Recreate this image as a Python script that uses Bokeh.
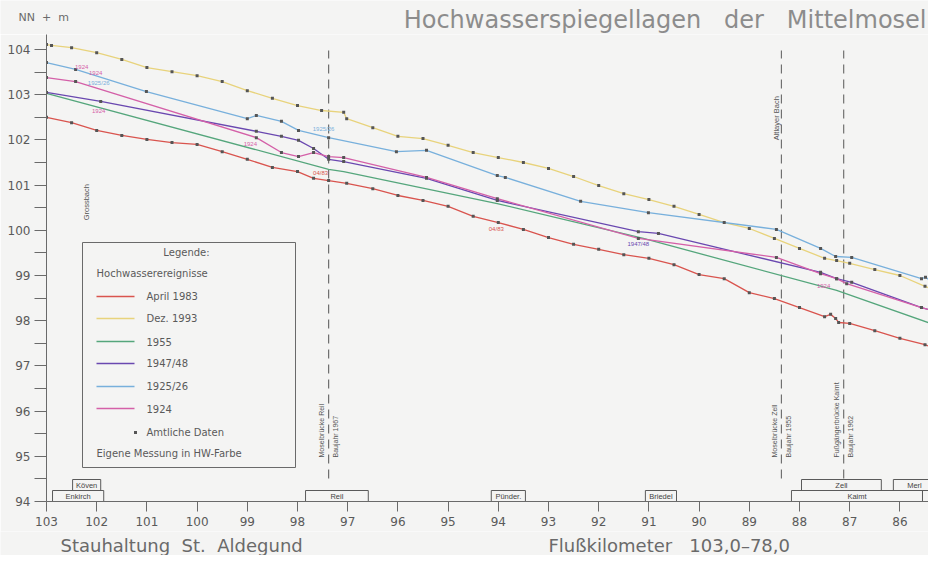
from math import pi
from bokeh.plotting import figure
from bokeh.layouts import column
from bokeh.models import Range1d, FixedTicker
from bokeh.core.properties import value
from bokeh.embed import file_html
from bokeh.resources import INLINE

# ---------------- data (Flußkilometer / Wasserspiegel NN + m) ----------------
km_1983 = [103.0, 102.5, 102.0, 101.5, 101.0, 100.5, 100.0, 99.5, 99.0, 98.5, 98.0, 97.68, 97.38,
           97.02, 96.5, 96.0, 95.5, 95.0, 94.5, 94.0, 93.5, 93.0, 92.5, 92.0, 91.5, 91.0, 90.5,
           90.0, 89.5, 89.0, 88.5, 88.0, 87.5, 87.38, 87.28, 87.22, 87.0, 86.5, 86.0, 85.5, 85.0]
m_1983 = [102.50, 102.38, 102.21, 102.10, 102.01, 101.94, 101.90, 101.74, 101.57, 101.39, 101.30,
          101.15, 101.10, 101.04, 100.92, 100.77, 100.66, 100.53, 100.31, 100.17, 100.02, 99.84,
          99.69, 99.58, 99.46, 99.38, 99.24, 99.02, 98.93, 98.62, 98.49, 98.29, 98.09, 98.14,
          98.05, 97.96, 97.94, 97.78, 97.61, 97.47, 97.25]

km_1993 = [103.0, 102.9, 102.5, 102.0, 101.5, 101.0, 100.5, 100.0, 99.5, 99.0, 98.5, 98.0, 97.52,
           97.08, 97.02, 96.5, 96.0, 95.5, 95.0, 94.5, 94.0, 93.5, 93.0, 92.5, 92.0, 91.5, 91.0,
           90.5, 90.0, 89.5, 89.0, 88.5, 88.0, 87.5, 87.26, 87.0, 86.5, 86.0, 85.5, 85.0]
m_1993 = [104.11, 104.09, 104.04, 103.93, 103.78, 103.60, 103.51, 103.42, 103.29, 103.09, 102.92,
          102.76, 102.65, 102.61, 102.47, 102.27, 102.08, 102.03, 101.88, 101.72, 101.61, 101.50,
          101.37, 101.19, 100.99, 100.81, 100.68, 100.53, 100.35, 100.17, 100.04, 99.82, 99.60,
          99.38, 99.33, 99.27, 99.13, 99.00, 98.76, 98.55]

km_1955 = [103.0, 97.38, 97.08, 94.02, 91.11, 87.26, 85.0]
m_1955 = [103.03, 101.35, 101.30, 100.59, 99.82, 98.67, 97.79]

km_1947 = [103.0, 101.92, 98.82, 98.32, 97.98, 97.68, 97.38, 97.08, 95.43, 94.02, 91.21, 90.81,
           87.58, 87.26, 86.96, 85.57, 85.0]
m_1947 = [103.05, 102.85, 102.19, 102.08, 101.99, 101.81, 101.57, 101.52, 101.15, 100.66, 99.97,
          99.93, 99.07, 98.93, 98.85, 98.29, 98.11]

km_1925 = [103.0, 102.42, 101.01, 99.0, 98.82, 98.32, 97.98, 97.38, 96.03, 95.43, 94.02, 93.86,
           92.36, 91.01, 88.46, 87.58, 87.28, 86.96, 85.57, 85.49, 85.0]
m_1925 = [103.71, 103.56, 103.07, 102.47, 102.54, 102.41, 102.21, 102.05, 101.74, 101.77, 101.21,
          101.17, 100.64, 100.39, 100.02, 99.60, 99.42, 99.40, 98.93, 98.96, 98.62]

km_1924 = [103.0, 102.42, 98.82, 98.32, 97.98, 97.68, 97.38, 97.08, 95.43, 94.02, 91.21, 88.46,
           87.58, 87.26, 87.06, 85.57, 85.0]
m_1924 = [103.38, 103.29, 102.05, 101.72, 101.63, 101.72, 101.63, 101.61, 101.17, 100.70, 99.82,
          99.40, 99.04, 98.93, 98.82, 98.29, 98.12]

series_names = ["April 1983", "Dez. 1993", "1955", "1947/48", "1925/26", "1924"]
series_km = [km_1983, km_1993, km_1955, km_1947, km_1925, km_1924]
series_m = [m_1983, m_1993, m_1955, m_1947, m_1925, m_1924]
series_official = [True, True, False, True, True, True]

# small event annotations
ann_text = ["1924", "1924", "1925/26", "1924", "1924", "1925/26", "04/83", "04/83", "1947/48", "1924"]
ann_km = [102.30, 102.02, 101.96, 101.96, 98.94, 97.48, 97.54, 94.04, 91.21, 87.52]
ann_m = [103.62, 103.47, 103.25, 102.65, 101.90, 102.25, 101.26, 100.02, 99.69, 98.76]
ann_series = [5, 5, 4, 5, 5, 4, 0, 0, 3, 5]

# bridges
bridge_km = [97.38, 88.36, 87.12]
bridge_name = ["Moselbrücke Reil", "Moselbrücke Zell", "Fußgängerbrücke Kaimt"]
bridge_year = ["Baujahr 1967", "Baujahr 1955", "Baujahr 1962"]

# tributaries
brook_name = ["Grossbach", "Altlayer Bach"]
brook_km = [102.2, 88.45]
brook_m = [100.22, 101.99]

# towns along the river
town_name = ["Enkirch", "Köven", "Reil", "Pünder.", "Briedel", "Kaimt", "", "Zell", "Merl"]
town_start = [102.88, 102.48, 97.84, 94.14, 91.07, 88.16, 85.55, 87.96, 86.13]
town_end = [101.86, 101.92, 96.59, 93.46, 90.45, 85.55, 84.2, 86.37, 85.29]
town_row = [0, 1, 0, 0, 0, 0, 0, 1, 1]

x_ticks = list(range(86, 104))
y_ticks = list(range(94, 105))
y_minor = [v + 0.5 for v in range(94, 104)]

NB = "\u00a0"
title_text = "Hochwasserspiegellagen" + NB * 3 + "der" + NB * 3 + "Mittelmosel"
unit_text = "NN" + NB * 2 + "+" + NB * 2 + "m"
caption_left = "Stauhaltung" + NB * 2 + "St." + NB * 2 + "Aldegund"
caption_right = "Flußkilometer" + NB * 3 + "103,0–78,0"

# ---------------- styles / layout ----------------
COLORS = ["#d9544e", "#e8d37c", "#55a67c", "#6a48b0", "#78b0dc", "#d460a8"]
BG = "#f4f4f3"
GREY = "#5a5a5a"
FONT = "DejaVu Sans"
SMALL = "Liberation Sans"

W = 928
TOP_H = 34
BOT_H = 24
PX_PER_KM = 50.2
PX_PER_M = 45.2
AX_X = 48      # y-axis position (page px)
AX_Y = 501     # x-axis position (page px)
SHIFT_X = 2    # page px -> canvas px
FRAME_LEFT = AX_X - SHIFT_X
FRAME_W = W - FRAME_LEFT
FRAME_H = AX_Y - TOP_H
X_LEFT = 103.0
X_RIGHT = X_LEFT - FRAME_W / PX_PER_KM
Y_BOTTOM = 94.0
Y_TOP = Y_BOTTOM + FRAME_H / PX_PER_M


def kx(px):  # page pixel x -> km
    return X_LEFT - (px - AX_X) / PX_PER_KM


def my(py):  # page pixel y -> m
    return Y_BOTTOM + (AX_Y - py) / PX_PER_M


def strip(height):
    s = figure(width=W, height=height, x_range=Range1d(0, W), y_range=Range1d(height, 0),
               x_axis_type=None, y_axis_type=None, output_backend="svg", toolbar_location=None,
               min_border=0, min_border_left=0, min_border_right=0, min_border_top=0,
               min_border_bottom=0, frame_align=False,
               background_fill_color=BG, border_fill_color=BG, outline_line_color=None)
    s.grid.visible = False
    return s


# top strip: unit + title
top = strip(TOP_H)
top.text(x=[20 - SHIFT_X], y=[17], text=[unit_text], text_align="left", text_baseline="middle",
         text_font=value(FONT), text_font_size=value("11px"), text_color="#6a6a6a")
top.text(x=[928 - SHIFT_X], y=[19], text=[title_text], text_align="right", text_baseline="middle",
         text_font=value(FONT), text_font_size=value("24px"), text_color="#8c8c8c")

# main plot
p = figure(frame_width=FRAME_W, frame_height=FRAME_H,
           x_range=Range1d(X_LEFT, X_RIGHT), y_range=Range1d(Y_BOTTOM, Y_TOP),
           output_backend="svg", toolbar_location=None, frame_align=False,
           min_border_left=FRAME_LEFT, min_border_right=0, min_border_top=0, min_border_bottom=30,
           background_fill_color=BG, border_fill_color=BG, outline_line_color=None)
p.grid.visible = False

xa = p.xaxis[0]
xa.ticker = FixedTicker(ticks=x_ticks)
xa.major_tick_out = 10
xa.major_tick_in = 0
xa.minor_tick_out = 0
xa.minor_tick_in = 0
xa.major_label_standoff = 5
ya = p.yaxis[0]
ya.ticker = FixedTicker(ticks=y_ticks, minor_ticks=y_minor)
ya.major_tick_out = 12
ya.major_tick_in = 0
ya.minor_tick_out = 12
ya.minor_tick_in = 0
ya.major_label_standoff = 4
for ax in (xa, ya):
    ax.axis_line_color = "#6a6a6a"
    ax.major_tick_line_color = "#6a6a6a"
    ax.minor_tick_line_color = "#6a6a6a"
    ax.major_label_text_font = FONT
    ax.major_label_text_font_size = "12px"
    ax.major_label_text_color = GREY

# bridges (dashed)
p.segment(x0=bridge_km, x1=bridge_km, y0=my(478), y1=my(50),
          line_color="#707070", line_width=1.2, line_dash="9 6")
p.text(x=[k + 7 / PX_PER_KM for k in bridge_km], y=[my(457)] * 3, text=bridge_name,
       angle=pi / 2, text_align="left", text_baseline="middle",
       text_font=value(SMALL), text_font_size=value("7px"), text_color="#555555")
p.text(x=[k - 7 / PX_PER_KM for k in bridge_km], y=[my(457)] * 3, text=bridge_year,
       angle=pi / 2, text_align="left", text_baseline="middle",
       text_font=value(SMALL), text_font_size=value("7px"), text_color="#555555")

# tributaries
p.text(x=brook_km, y=brook_m, text=brook_name, angle=pi / 2, text_align="left",
       text_baseline="middle", text_font=value(SMALL), text_font_size=value("7.5px"),
       text_color="#555555")

# flood lines
for xs, ys, col in zip(series_km, series_m, COLORS):
    p.line(xs, ys, line_color=col, line_width=1.3)
for xs, ys, off in zip(series_km, series_m, series_official):
    if off:
        p.scatter(xs, ys, marker="square", size=3, fill_color="#555555", line_color=None)

# annotations
p.text(x=ann_km, y=ann_m, text=ann_text, text_align="center", text_baseline="middle",
       text_font=value(SMALL), text_font_size=value("6px"),
       text_color=[COLORS[i] for i in ann_series])

# towns
BOX_H = 11 / PX_PER_M
tb = [Y_BOTTOM + r * BOX_H for r in town_row]
tt = [b + BOX_H for b in tb]
p.quad(left=town_start, right=town_end, bottom=tb, top=tt, fill_color=None,
       line_color="#5a5a5a", line_width=1)
p.text(x=[(a + b) / 2 for a, b in zip(town_start, town_end)], y=[(a + b) / 2 for a, b in zip(tb, tt)],
       text=town_name, text_align="center", text_baseline="middle",
       text_font=value(SMALL), text_font_size=value("7.5px"), text_color="#444444")

# legend (hand-built box)
p.quad(left=[kx(84)], right=[kx(297)], top=[my(242)], bottom=[my(467)],
       fill_color=BG, line_color="#6a6a6a", line_width=1)
lg = dict(text_baseline="middle", text_font=value(FONT), text_font_size=value("10px"), text_color=GREY)
p.text(x=[kx(188)], y=[my(252)], text=["Legende:"], text_align="center", **lg)
p.text(x=[kx(98)], y=[my(273)], text=["Hochwasserereignisse"], text_align="left", **lg)
row_y = [296, 318, 341, 363, 386, 408]
p.segment(x0=[kx(98)] * 6, x1=[kx(136)] * 6, y0=[my(r) for r in row_y], y1=[my(r) for r in row_y],
          line_color=COLORS, line_width=1.3)
p.text(x=[kx(148)] * 6, y=[my(r) for r in row_y], text=series_names, text_align="left", **lg)
p.scatter(x=[kx(137)], y=[my(432)], marker="square", size=3, fill_color="#555555", line_color=None)
p.text(x=[kx(148)], y=[my(432)], text=["Amtliche Daten"], text_align="left", **lg)
p.text(x=[kx(98)], y=[my(453)], text=["Eigene Messung in HW-Farbe"], text_align="left", **lg)

# bottom strip: captions
bot = strip(BOT_H)
bot.text(x=[62 - SHIFT_X, 550 - SHIFT_X], y=[14, 14], text=[caption_left, caption_right],
         text_align="left", text_baseline="middle", text_font=value(FONT),
         text_font_size=value("18px"), text_color="#6a6a6a")

layout = column(top, p, bot, spacing=0)
open("out.html", "w").write(file_html(layout, INLINE))
